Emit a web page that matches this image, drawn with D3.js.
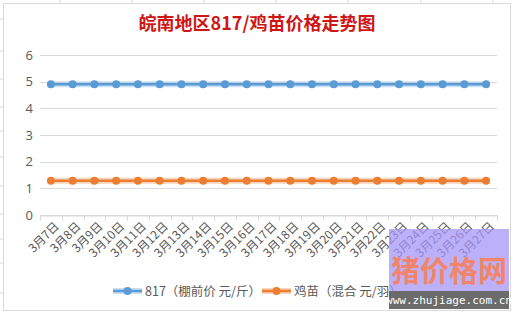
<!DOCTYPE html>
<html>
<head>
<meta charset="utf-8">
<script src="https://cdn.jsdelivr.net/npm/d3@7"></script>
<style>
  body { margin: 0; background: #fff; }
  text { font-family: "Noto Sans CJK SC", "Microsoft YaHei", sans-serif; }
</style>
</head>
<body>
<div id="chart"></div>
<script>
// chart data
let dates = ["3月7日", "3月8日", "3月9日", "3月10日", "3月11日", "3月12日", "3月13日",
  "3月14日", "3月15日", "3月16日", "3月17日", "3月18日", "3月19日", "3月20日",
  "3月21日", "3月22日", "3月23日", "3月24日", "3月25日", "3月26日", "3月27日"];
let price817 = [4.9, 4.9, 4.9, 4.9, 4.9, 4.9, 4.9, 4.9, 4.9, 4.9, 4.9,
  4.9, 4.9, 4.9, 4.9, 4.9, 4.9, 4.9, 4.9, 4.9, 4.9];
let priceChick = [1.28, 1.28, 1.28, 1.28, 1.28, 1.28, 1.28, 1.28, 1.28, 1.28, 1.28,
  1.28, 1.28, 1.28, 1.28, 1.28, 1.28, 1.28, 1.28, 1.28, 1.28];
let yTicks = [0, 1, 2, 3, 4, 5, 6];
let seriesNames = ["817（棚前价 元/斤）", "鸡苗（混合 元/羽）"];

let width = 514;
let height = 314;
let margin = ({top: 55, right: 17, bottom: 99, left: 40});

let svg = d3.select("#chart")
  .append("svg")
  .attr("width", width)
  .attr("height", height)

// spreadsheet cell lines behind the chart
let colLines = [60, 132, 204, 276, 348, 421, 493];
svg.selectAll(".col")
  .data(colLines)
  .enter()
  .append("line")
  .attr("x1", d => d).attr("x2", d => d)
  .attr("y1", 0).attr("y2", 3)
  .attr("stroke", "#d9d9d9")
let rowLines = [19, 51, 79, 107, 131, 157, 186, 214, 239, 263, 293];
svg.selectAll(".row")
  .data(rowLines)
  .enter()
  .append("line")
  .attr("x1", 0).attr("x2", 3)
  .attr("y1", d => d).attr("y2", d => d)
  .attr("stroke", "#d9d9d9")

// chart frame
svg.append("rect")
  .attr("x", 3.5).attr("y", 3.5)
  .attr("width", 507).attr("height", 307)
  .attr("fill", "#fff")
  .attr("stroke", "#d9d9d9")

let xScale = d3.scaleBand()
  .domain(dates)
  .range([margin.left, width - margin.right])

let yScale = d3.scaleLinear()
  .domain([0, 6])
  .range([height - margin.bottom, margin.top])

// gridlines
svg.append("g")
  .selectAll("line")
  .data(yTicks)
  .enter()
  .append("line")
  .attr("x1", margin.left)
  .attr("x2", width - margin.right)
  .attr("y1", d => Math.round(yScale(d)) + 0.5)
  .attr("y2", d => Math.round(yScale(d)) + 0.5)
  .attr("stroke", "#d9d9d9")

// y labels
svg.append("g")
  .selectAll("text")
  .data(yTicks)
  .enter()
  .append("text")
  .attr("x", 33)
  .attr("y", d => yScale(d) + 4.5)
  .attr("text-anchor", "end")
  .attr("font-size", 13)
  .attr("fill", "#595959")
  .style("font-family", "'Open Sans', sans-serif")
  .text(d => d)

// x axis ticks between categories
let xAxis = d3.axisBottom(xScale).tickSize(0).tickFormat("")
let axisG = svg.append("g")
  .attr("transform", "translate(0," + (Math.round(yScale(0)) + 0.5) + ")")
  .call(xAxis)
axisG.select(".domain").attr("stroke", "#d9d9d9")
axisG.selectAll(".sep")
  .data(dates.concat(["end"]))
  .enter()
  .append("line")
  .attr("x1", (d, i) => Math.round(margin.left + i * xScale.step()) + 0.5)
  .attr("x2", (d, i) => Math.round(margin.left + i * xScale.step()) + 0.5)
  .attr("y1", 0).attr("y2", 5)
  .attr("stroke", "#d9d9d9")

// rotated date labels
svg.append("g")
  .selectAll("text")
  .data(dates)
  .enter()
  .append("text")
  .attr("transform", d => "translate(" + (xScale(d) + xScale.bandwidth() / 2 + 6) + "," + (yScale(0) + 9) + ") rotate(-45)")
  .attr("text-anchor", "end")
  .attr("dy", "0.35em")
  .attr("font-size", 12)
  .attr("fill", "#595959")
  .text(d => d)

let line = d3.line()
  .x((d, i) => xScale(dates[i]) + xScale.bandwidth() / 2)
  .y(d => yScale(d))

function drawSeries(values, color, glow) {
  svg.append("path")
    .datum(values)
    .attr("d", line)
    .attr("fill", "none")
    .attr("stroke", glow)
    .attr("stroke-width", 6)
    .attr("opacity", 0.6)
  svg.append("path")
    .datum(values)
    .attr("d", line)
    .attr("fill", "none")
    .attr("stroke", color)
    .attr("stroke-width", 2.5)
  svg.append("g")
    .selectAll("circle")
    .data(values)
    .enter()
    .append("circle")
    .attr("cx", (d, i) => xScale(dates[i]) + xScale.bandwidth() / 2)
    .attr("cy", d => yScale(d))
    .attr("r", 4)
    .attr("fill", color)
}
drawSeries(price817, "#5b9bd5", "#a9c9ea")
drawSeries(priceChick, "#ed7d31", "#f5b78f")

// title
svg.append("text")
  .attr("x", 257)
  .attr("y", 30)
  .attr("text-anchor", "middle")
  .attr("font-size", 18)
  .attr("font-weight", "bold")
  .attr("fill", "#d01515")
  .text("皖南地区817/鸡苗价格走势图")

// legend
let legend = [
  {name: seriesNames[0], color: "#5b9bd5", glow: "#a9c9ea", x: 113},
  {name: seriesNames[1], color: "#ed7d31", glow: "#f5b78f", x: 262}
];
let lg = svg.append("g").selectAll("g")
  .data(legend)
  .enter()
  .append("g")
  .attr("transform", d => "translate(" + d.x + ",291)")
lg.append("line").attr("x1", 0).attr("x2", 29)
  .attr("stroke", d => d.glow).attr("stroke-width", 6).attr("opacity", 0.6)
lg.append("line").attr("x1", 0).attr("x2", 29)
  .attr("stroke", d => d.color).attr("stroke-width", 2.5)
lg.append("circle").attr("cx", 14.5).attr("r", 4).attr("fill", d => d.color)
lg.append("text")
  .attr("x", 32)
  .attr("y", 4.5)
  .attr("font-size", 12.5)
  .attr("fill", "#595959")
  .text(d => d.name)

// watermark
let wm = svg.append("g")
wm.append("rect")
  .attr("x", 389).attr("y", 229).attr("width", 120).attr("height", 62)
  .attr("fill", "#a595f7").attr("opacity", 0.75)
wm.append("text")
  .attr("x", 449).attr("y", 282)
  .attr("text-anchor", "middle")
  .attr("font-size", 29)
  .attr("font-weight", "bold")
  .attr("fill", "#f7805c")
  .attr("opacity", 0.9)
  .text("猪价格网")
wm.append("rect")
  .attr("x", 389).attr("y", 291).attr("width", 120).attr("height", 18)
  .attr("fill", "#6b6b6b")
wm.append("text")
  .attr("x", 449).attr("y", 304)
  .attr("text-anchor", "middle")
  .attr("font-size", 11)
  .attr("fill", "#fff")
  .style("font-family", "'DejaVu Sans Mono', monospace")
  .text("www.zhujiage.com.cn")
</script>
</body>
</html>
